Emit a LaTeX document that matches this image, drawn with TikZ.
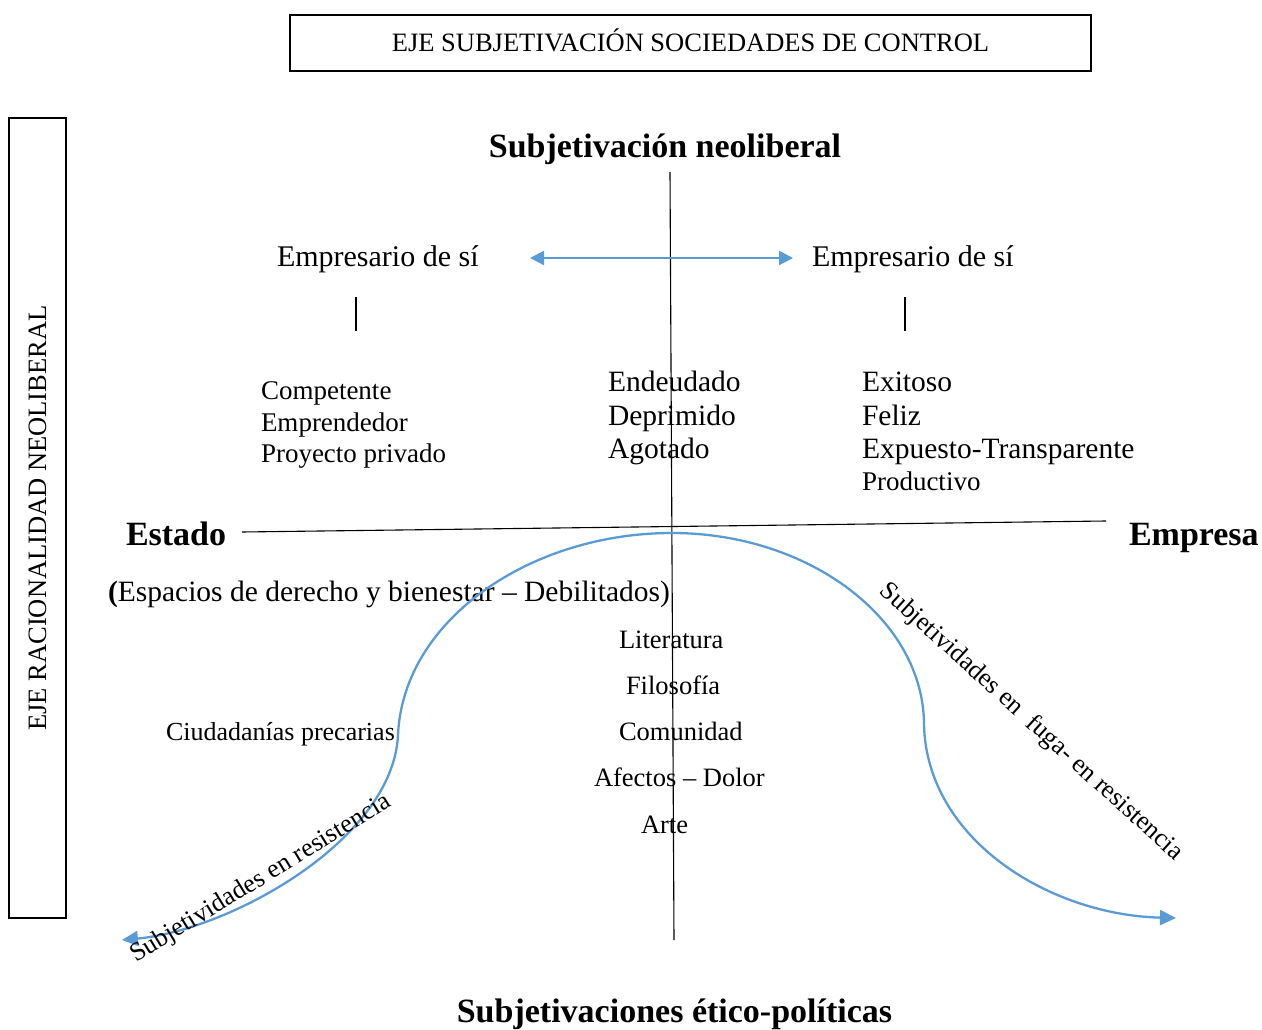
\documentclass[tikz,border=0pt]{standalone}
\usepackage{fontspec}
\setmainfont{Liberation Serif}
\usetikzlibrary{arrows.meta}
\definecolor{curveblue}{RGB}{91,155,213}
\newcommand\fsz[1]{\fontsize{#1}{#1}\selectfont}
\tikzset{
  txt/.style={inner sep=0pt, outer sep=0pt, anchor=base west},
  framebox/.style={draw=black, line width=1.6pt, inner sep=0pt},
  axis/.style={draw=black, line width=1.1pt},
  tick/.style={draw=black, line width=1.2pt},
  bluecurve/.style={draw=curveblue, line width=2.3pt, {Triangle[length=16pt,width=15pt]}-{Triangle[length=16pt,width=15pt]}},
}
\begin{document}
\begin{tikzpicture}[x=1pt, y=-1pt]
\useasboundingbox (0,0) rectangle (1262,1030);

% frames
\node[framebox, minimum width=801pt, minimum height=56pt, text height=18pt, text depth=0pt, font=\fsz{26.5}] (topbox) at (690.5,43) {EJE SUBJETIVACIÓN SOCIEDADES DE CONTROL};
\node[framebox, rotate=90, minimum width=800pt, minimum height=57pt, font=\fsz{26.5}] (leftbox) at (37.5,518) {EJE RACIONALIDAD NEOLIBERAL};

% axes
\coordinate (vtop) at (670,172);
\coordinate (vbot) at (674,940);
\coordinate (hleft) at (242,532);
\coordinate (hright) at (1106,521);
\draw[axis] (vtop) -- (vbot);
\draw[axis] (hleft) -- (hright);

% headings
\node[txt, anchor=base, font=\fsz{34}\bfseries] (neolib) at (665,158) {Subjetivación neoliberal};
\node[txt, anchor=base, font=\fsz{34}\bfseries] (etico) at (674.5,1022) {Subjetivaciones ético-políticas};
\node[txt, font=\fsz{34}\bfseries] (estado) at (126,545) {Estado};
\node[txt, font=\fsz{34}\bfseries] (empresa) at (1129,545) {Empresa};

% empresario
\node[txt, font=\fsz{30}] (empL) at (277,266) {Empresario de sí};
\node[txt, font=\fsz{30}] (empR) at (812,266) {Empresario de sí};
\coordinate (arrL) at (530,258);
\coordinate (arrR) at (793,258);
\draw[draw=curveblue, line width=2.2pt, {Triangle[length=14pt,width=14pt]}-{Triangle[length=14pt,width=14pt]}] (arrL) -- (arrR);

\coordinate (tLa) at (356,297);
\coordinate (tLb) at (356,331);
\coordinate (tRa) at (905,297);
\coordinate (tRb) at (905,331);
\draw[tick] (tLa) -- (tLb);
\draw[tick] (tRa) -- (tRb);

% lists
\node[txt, font=\fsz{27}] (comp) at (261,399) {Competente};
\node[txt, font=\fsz{27}] (empr) at (261,431) {Emprendedor};
\node[txt, font=\fsz{27}] (proy) at (261,462) {Proyecto privado};

\node[txt, font=\fsz{29.5}] (ende) at (608,391) {Endeudado};
\node[txt, font=\fsz{29.5}] (depr) at (608,425) {Deprimido};
\node[txt, font=\fsz{29.5}] (agot) at (608,458) {Agotado};

\node[txt, font=\fsz{29.5}] (exit) at (862,391) {Exitoso};
\node[txt, font=\fsz{29.5}] (feli) at (862,425) {Feliz};
\node[txt, font=\fsz{29.5}] (expu) at (862,458) {Expuesto-Transparente};
\node[txt, font=\fsz{27}] (prod) at (862,490) {Productivo};

\node[txt, font=\fsz{29.5}] (espacios) at (108,601) {{\bfseries (}Espacios de derecho y bienestar – Debilitados)};

% lower center
\node[txt, font=\fsz{26.5}] (lit) at (619,648) {Literatura};
\node[txt, font=\fsz{26.5}] (fil) at (626,694) {Filosofía};
\node[txt, font=\fsz{26.5}] (com) at (619,740) {Comunidad};
\node[txt, font=\fsz{26.5}] (afe) at (594,786) {Afectos – Dolor};
\node[txt, font=\fsz{26.5}] (art) at (641,833) {Arte};

\node[txt, font=\fsz{26}] (ciud) at (166,740) {Ciudadanías precarias};

% blue curve
\coordinate (cL) at (122,940);
\coordinate (cA) at (398,735);
\coordinate (cTop) at (672,533);
\coordinate (cB) at (924,725);
\coordinate (cR) at (1176,918);
\draw[bluecurve] (cL) .. controls (230,930) and (393,840) .. (cA)
  .. controls (403,620) and (530,533) .. (cTop)
  .. controls (810,533) and (924,620) .. (cB)
  .. controls (927,840) and (1050,915) .. (cR);

% curve labels
\node[inner sep=0pt, rotate=31.5, font=\fsz{26}] (resL) at (261,879) {Subjetividades en resistencia};
\node[inner sep=0pt, rotate=-42.2, font=\fsz{26}] (resR) at (1031,722) {Subjetividades en\ \ fuga- en resistencia};
\end{tikzpicture}
\end{document}
